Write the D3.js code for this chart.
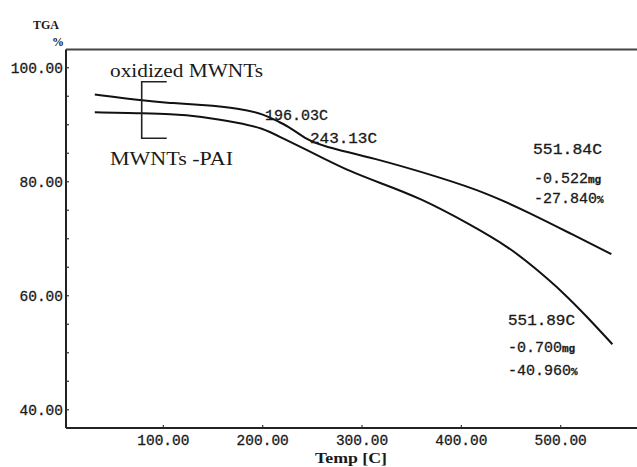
<!DOCTYPE html>
<html>
<head>
<meta charset="utf-8">
<script src="https://cdn.jsdelivr.net/npm/d3@7"></script>
<style>
  body { margin: 0; background: #fff; }
  svg text { fill: #1a1a1a; }
</style>
</head>
<body>
<div id="chart"></div>
<script>
const W = 637, H = 467;

// oxidized MWNTs (upper curve)
const tempOx = [31, 76, 107, 137, 177, 202, 215, 228, 244, 261, 311, 378, 426, 469, 509, 551];
const tgaOx  = [95.3, 94.3, 93.8, 93.5, 92.9, 91.8, 90.6, 89.5, 87.4, 86.2, 84.2, 80.8, 78.0, 74.5, 71.0, 67.3];

// MWNTs-PAI (lower curve)
const tempPai = [31, 76, 107, 137, 177, 200, 217, 258, 288, 318, 358, 409, 449, 476, 503, 526, 552];
const tgaPai  = [92.2, 92.0, 91.9, 91.5, 90.3, 89.4, 87.9, 84.4, 81.8, 79.8, 77.2, 72.5, 68.4, 64.6, 60.5, 56.4, 51.5];

const xTicks = [100, 200, 300, 400, 500];
const yTicks = [40, 60, 80, 100];
const yMinor = d3.range(40, 101, 5);

const x = d3.scaleLinear().domain([2, 576.8]).range([66, 637]);
const y = d3.scaleLinear().domain([36.8, 103.2]).range([428, 49.5]);
const fmt = d3.format(".2f");

const svg = d3.select('#chart').append('svg')
    .attr('width', W)
    .attr('height', H)
    .attr('font-family', 'Liberation Mono, monospace');

// frame: top, left, bottom
svg.append('line').attr('x1', 66).attr('x2', W).attr('y1', 49.5).attr('y2', 49.5)
    .attr('stroke', '#444').attr('stroke-width', 2);
svg.append('line').attr('x1', 66).attr('x2', 66).attr('y1', 49.5).attr('y2', 428)
    .attr('stroke', '#222').attr('stroke-width', 2);
svg.append('line').attr('x1', 66).attr('x2', W).attr('y1', 428).attr('y2', 428)
    .attr('stroke', '#222').attr('stroke-width', 2);

// y ticks
svg.selectAll('.ymin').data(yMinor).enter().append('line')
    .attr('x1', 66).attr('x2', 69)
    .attr('y1', d => y(d)).attr('y2', d => y(d))
    .attr('stroke', '#333').attr('stroke-width', 1.2);
svg.selectAll('.ylab').data(yTicks).enter().append('text')
    .attr('x', 63).attr('y', d => y(d) + 5)
    .attr('text-anchor', 'end')
    .attr('font-size', 14.5)
    .attr('stroke', '#1a1a1a').attr('stroke-width', 0.3)
    .text(fmt);

// x ticks
svg.selectAll('.xt').data(xTicks).enter().append('line')
    .attr('x1', d => x(d)).attr('x2', d => x(d))
    .attr('y1', 428).attr('y2', 425)
    .attr('stroke', '#333').attr('stroke-width', 1.2);
svg.selectAll('.xlab').data(xTicks).enter().append('text')
    .attr('x', d => x(d)).attr('y', 445)
    .attr('text-anchor', 'middle')
    .attr('font-size', 14.5)
    .attr('stroke', '#1a1a1a').attr('stroke-width', 0.3)
    .text(fmt);

// axis titles
svg.append('text').attr('x', 46).attr('y', 29).attr('text-anchor', 'middle')
    .attr('font-family', 'Liberation Serif, serif').attr('font-weight', 'bold')
    .attr('font-size', 12).text('TGA');
svg.append('text').attr('x', 58).attr('y', 46).attr('text-anchor', 'middle')
    .attr('font-family', 'Liberation Serif, serif').attr('font-weight', 'bold')
    .attr('font-size', 12).text('%');
svg.append('text').attr('x', 315).attr('y', 463)
    .attr('font-family', 'Liberation Serif, serif').attr('font-weight', 'bold')
    .attr('font-size', 14).attr('textLength', 72).attr('lengthAdjust', 'spacingAndGlyphs')
    .text('Temp [C]');

// curves
const line = d3.line().x(d => x(d[0])).y(d => y(d[1])).curve(d3.curveBasis);
svg.append('path').datum(d3.zip(tempOx, tgaOx))
    .attr('d', line).attr('fill', 'none').attr('stroke', '#111').attr('stroke-width', 2);
svg.append('path').datum(d3.zip(tempPai, tgaPai))
    .attr('d', line).attr('fill', 'none').attr('stroke', '#111').attr('stroke-width', 2);

// bracket legend
svg.append('path')
    .attr('d', 'M166.7,81.7 H141.7 V138.3 H166.7')
    .attr('fill', 'none').attr('stroke', '#222').attr('stroke-width', 1.6);
svg.append('text').attr('x', 110).attr('y', 77)
    .attr('font-family', 'Liberation Serif, serif').attr('font-size', 19)
    .attr('textLength', 153).attr('lengthAdjust', 'spacingAndGlyphs').text('oxidized MWNTs');
svg.append('text').attr('x', 110).attr('y', 165)
    .attr('font-family', 'Liberation Serif, serif').attr('font-size', 19)
    .attr('textLength', 123).attr('lengthAdjust', 'spacingAndGlyphs').text('MWNTs -PAI');

// annotations
function note(xp, yp, str, len) {
  svg.append('text').attr('x', xp).attr('y', yp)
      .attr('font-size', 14).attr('textLength', len).attr('lengthAdjust', 'spacingAndGlyphs')
      .attr('stroke', '#1a1a1a').attr('stroke-width', 0.3)
      .text(str);
}
function noteUnit(xp, yp, num, unit) {
  const t = svg.append('text').attr('x', xp).attr('y', yp).attr('font-size', 15)
      .attr('stroke', '#1a1a1a').attr('stroke-width', 0.3);
  t.append('tspan').text(num);
  t.append('tspan').attr('font-size', 11).attr('font-weight', 'bold').text(unit);
}
note(265, 120, '196.03C', 63);
note(310, 143, '243.13C', 67);
note(533, 154, '551.84C', 69);
noteUnit(534, 183, '-0.522', 'mg');
noteUnit(534, 203, '-27.840', '%');
note(508, 325, '551.89C', 67);
noteUnit(508, 352, '-0.700', 'mg');
noteUnit(508, 375, '-40.960', '%');
</script>
</body>
</html>
